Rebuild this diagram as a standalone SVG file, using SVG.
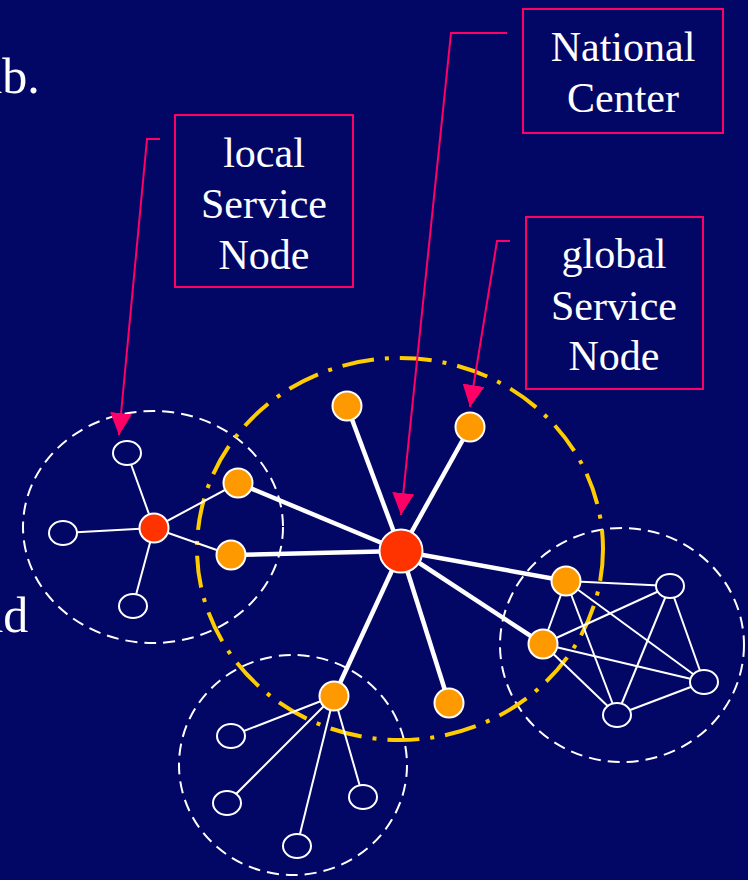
<svg xmlns="http://www.w3.org/2000/svg" width="748" height="880" viewBox="0 0 748 880">
<defs>
<style>
.bg{fill:#020766}
.t{font-family:"Liberation Serif","Times New Roman",serif;fill:#ffffff;font-size:42px;text-anchor:middle}
.big{font-family:"Liberation Serif","Times New Roman",serif;fill:#ffffff;font-size:50px}
.box{fill:none;stroke:#ff0066;stroke-width:2}
.lead{fill:none;stroke:#ff0066;stroke-width:2}
.zone{fill:none;stroke:#ffffff;stroke-width:2;stroke-dasharray:12 7}
.gzone{fill:none;stroke:#ffcc00;stroke-width:4;stroke-dasharray:32 11 4 11}
.thick{stroke:#ffffff;stroke-width:4.5;fill:none}
.thin{stroke:#ffffff;stroke-width:2;fill:none}
.nc{fill:#ff3300;stroke:#ffffff;stroke-width:2}
.gs{fill:#ff9900;stroke:#ffffff;stroke-width:2}
.ls{fill:#ff3300;stroke:#ffffff;stroke-width:2}
.cl{fill:#020766;stroke:#ffffff;stroke-width:2}
</style>
<marker id="ah" markerUnits="userSpaceOnUse" markerWidth="22" markerHeight="22" viewBox="0 0 20 20" refX="20" refY="10" orient="auto">
<path d="M0,0 L20,10 L0,20 Z" fill="#ff0066"/>
</marker>
</defs>
<rect class="bg" x="0" y="0" width="748" height="880"/>
<text class="big" x="-20" y="93">ab.</text>
<text class="big" x="-19" y="632">ad</text>

<g id="zones">
<ellipse class="zone" cx="153" cy="527" rx="130" ry="116"/>
<ellipse class="zone" cx="293" cy="765" rx="114" ry="110"/>
<ellipse class="zone" cx="622" cy="645" rx="122" ry="117"/>
<ellipse class="gzone" cx="400" cy="549" rx="203" ry="191"/>
</g>

<g id="connectors">
<line class="thick" x1="401" y1="551" x2="347" y2="406"/>
<line class="thick" x1="401" y1="551" x2="470" y2="427"/>
<line class="thick" x1="401" y1="551" x2="238" y2="483"/>
<line class="thick" x1="401" y1="551" x2="231" y2="555"/>
<line class="thick" x1="401" y1="551" x2="566" y2="581"/>
<line class="thick" x1="401" y1="551" x2="543" y2="644"/>
<line class="thick" x1="401" y1="551" x2="449" y2="703"/>
<line class="thick" x1="401" y1="551" x2="334" y2="696"/>
<line class="thin" x1="154" y1="528" x2="127" y2="453"/>
<line class="thin" x1="154" y1="528" x2="63" y2="533"/>
<line class="thin" x1="154" y1="528" x2="133" y2="606"/>
<line class="thin" x1="154" y1="528" x2="238" y2="483"/>
<line class="thin" x1="154" y1="528" x2="231" y2="555"/>
<line class="thin" x1="334" y1="696" x2="231" y2="736"/>
<line class="thin" x1="334" y1="696" x2="227" y2="803"/>
<line class="thin" x1="334" y1="696" x2="297" y2="846"/>
<line class="thin" x1="334" y1="696" x2="363" y2="797"/>
<line class="thin" x1="566" y1="581" x2="543" y2="644"/>
<line class="thin" x1="566" y1="581" x2="670" y2="586"/>
<line class="thin" x1="566" y1="581" x2="704" y2="682"/>
<line class="thin" x1="566" y1="581" x2="617" y2="715"/>
<line class="thin" x1="543" y1="644" x2="670" y2="586"/>
<line class="thin" x1="543" y1="644" x2="704" y2="682"/>
<line class="thin" x1="543" y1="644" x2="617" y2="715"/>
<line class="thin" x1="670" y1="586" x2="704" y2="682"/>
<line class="thin" x1="670" y1="586" x2="617" y2="715"/>
<line class="thin" x1="704" y1="682" x2="617" y2="715"/>
</g>

<g id="leaders">
<polyline class="lead" points="160,139 147,139 119,435" marker-end="url(#ah)"/>
<polyline class="lead" points="507,33 451,33 401,515" marker-end="url(#ah)"/>
<polyline class="lead" points="510,241 497,241 470,407" marker-end="url(#ah)"/>
</g>

<g id="national-center"><circle class="nc" cx="401" cy="551" r="21.5"/></g>
<g id="g1"><circle class="gs" cx="347" cy="406" r="14.5"/></g>
<g id="g2"><circle class="gs" cx="470" cy="427" r="14.5"/></g>
<g id="g3"><circle class="gs" cx="238" cy="483" r="14.5"/></g>
<g id="g4"><circle class="gs" cx="231" cy="555" r="14.5"/></g>
<g id="g5"><circle class="gs" cx="566" cy="581" r="14.5"/></g>
<g id="g6"><circle class="gs" cx="543" cy="644" r="14.5"/></g>
<g id="g7"><circle class="gs" cx="449" cy="703" r="14.5"/></g>
<g id="g8"><circle class="gs" cx="334" cy="696" r="14.5"/></g>
<g id="local"><circle class="ls" cx="154" cy="528" r="14.5"/></g>
<g id="c1"><ellipse class="cl" cx="127" cy="453" rx="14" ry="12"/></g>
<g id="c2"><ellipse class="cl" cx="63" cy="533" rx="14" ry="12"/></g>
<g id="c3"><ellipse class="cl" cx="133" cy="606" rx="14" ry="12"/></g>
<g id="c4"><ellipse class="cl" cx="231" cy="736" rx="14" ry="12"/></g>
<g id="c5"><ellipse class="cl" cx="227" cy="803" rx="14" ry="12"/></g>
<g id="c6"><ellipse class="cl" cx="297" cy="846" rx="14" ry="12"/></g>
<g id="c7"><ellipse class="cl" cx="363" cy="797" rx="14" ry="12"/></g>
<g id="c8"><ellipse class="cl" cx="670" cy="586" rx="14" ry="12"/></g>
<g id="c9"><ellipse class="cl" cx="704" cy="682" rx="14" ry="12"/></g>
<g id="c10"><ellipse class="cl" cx="617" cy="715" rx="14" ry="12"/></g>

<g id="label-local">
<rect class="box" x="175" y="115" width="178" height="172"/>
<text class="t" x="264" y="167">local</text>
<text class="t" x="264" y="218">Service</text>
<text class="t" x="264" y="269">Node</text>
</g>
<g id="label-national">
<rect class="box" x="523" y="9" width="200" height="124"/>
<text class="t" x="623" y="61">National</text>
<text class="t" x="623" y="112">Center</text>
</g>
<g id="label-global">
<rect class="box" x="526" y="217" width="177" height="172"/>
<text class="t" x="614" y="268">global</text>
<text class="t" x="614" y="320">Service</text>
<text class="t" x="614" y="370">Node</text>
</g>
</svg>
